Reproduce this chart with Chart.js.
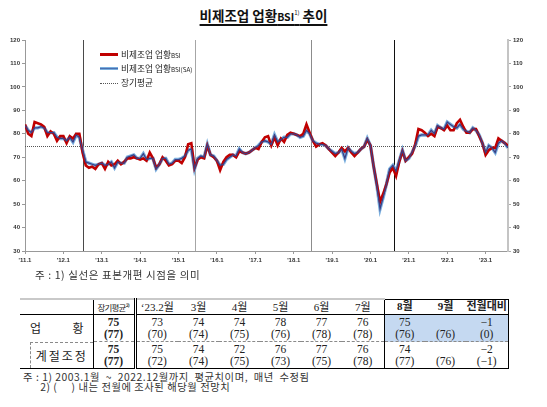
<!DOCTYPE html>
<html>
<head>
<meta charset="utf-8">
<script src="https://cdn.jsdelivr.net/npm/chart.js@4.4.1/dist/chart.umd.min.js"></script>
<style>
  html,body{margin:0;padding:0;background:#fff;}
  body{width:547px;height:407px;position:relative;overflow:hidden;font-family:"Noto Sans CJK KR","Noto Sans",sans-serif;color:#222;}
  #title{position:absolute;top:4px;left:0;width:527px;text-align:center;font-size:13.5px;font-weight:bold;color:#111;line-height:18px;}
  #title .u{text-decoration:underline;text-decoration-thickness:1.5px;text-underline-offset:3px;}
  #title small{font-size:10.5px;}
  #title sup{font-size:6px;vertical-align:6px;font-weight:normal;}
  #cwrap{position:absolute;left:0;top:28px;width:547px;height:240px;}
  #legend{position:absolute;left:100px;top:48px;font-size:8.7px;line-height:14px;color:#222;}
  #legend .it{display:flex;align-items:center;height:14px;}
  #legend .sw{width:18px;height:0;margin-right:3px;position:relative;}
  #legend small{font-size:6.3px;}
  #note1{position:absolute;left:35px;top:267px;font-size:10.5px;letter-spacing:0.6px;color:#333;}
  #tbl{position:absolute;left:20px;top:298px;border-collapse:collapse;table-layout:fixed;}
  #tbl td{padding:0;text-align:center;vertical-align:middle;font-family:"Liberation Serif","Noto Sans CJK KR",serif;font-size:11.5px;line-height:12.5px;color:#222;}
  #tbl tr.h td{height:14px;font-family:"Noto Sans CJK KR",sans-serif;font-size:10px;line-height:13px;border-top:2px solid #c9c9c9;border-bottom:1px solid #000;}
  #tbl tr.h td.num{font-family:"Liberation Serif","Noto Sans CJK KR",serif;font-size:11px;}
  #tbl tr.r1 td{height:26px;border-bottom:1px dashed #8a8a8a;}
  #tbl tr.r2 td{height:26px;border-bottom:1px solid #000;}
  #tbl td.c0{border-right:1px solid #000;font-family:"Noto Sans CJK KR",sans-serif;font-size:12px;}
  #tbl td.c1{border-right:3px double #000;font-weight:bold;}
  #tbl td.bl{border-left:1.5px solid #000;}
  #tbl td.br{border-right:1.5px solid #000;}
  #tbl tr.h td.bx{border-top:1.5px solid #000;font-weight:bold;}
  #tbl tr.r1 td.bx{background:#c5d9f1;}
  #tbl tr.r2 td.bx{border-bottom:1.5px solid #000;}
  #tbl tr.r1 td.c0{border-bottom:none;}
  #notes{position:absolute;left:23px;top:372px;font-size:10.3px;letter-spacing:0.55px;line-height:10px;color:#333;white-space:pre;}
</style>
</head>
<body>
<div id="title"><span class="u">비제조업 업황<small>BSI</small><sup>1)</sup> 추이</span></div>
<div id="cwrap"><canvas id="c" width="547" height="240" style="width:547px;height:240px"></canvas></div>
<div id="legend"></div>
<div id="note1">주 : 1) 실선은 표본개편 시점을 의미</div>
<table id="tbl"></table>
<div id="notes">주 : 1) 2003.1월  ~  2022.12월까지  평균치이며,  매년  수정됨
      2) (     ) 내는 전월에 조사된 해당월 전망치</div>

<script>
// ---------- DATA ----------
const yearTickLabels = ["'11.1","'12.1","'13.1","'14.1","'15.1","'16.1","'17.1","'18.1","'19.1","'20.1","'21.1","'22.1","'23.1"];

// 비제조업 업황BSI (2011.1 ~ 2023.8, monthly)
const bsi = [
  84,80,79,85,84.5,84,83,79,81,80,77,79,
  79,76,79,78,80,80,72,66.5,65.5,66,65,67,
  67.5,65,68,66.5,67,68.5,67,68,69.5,69.5,70,69.5,
  69,69.5,68.5,72,69.5,65.5,67,70,68.5,66.5,67,68.5,
  68.5,67.5,70,75.5,76,65.5,69,70,69.5,75,71,70,
  68.5,64.5,68,70,71,71,70,72.5,72,71.5,72,73,
  74,73.5,76.5,78.5,79,75,78.5,75,78,76.5,79.5,80.5,
  80,79.5,79,80,84,80.5,77,74.5,75.5,76,75,73.5,
  72,70.5,72,74,72.5,74,72,70.5,72,73.5,74.5,77.5,
  75,66,58.5,51,54.5,58.5,63.5,65.5,62,68,72.5,68.5,
  70,71.5,75.5,82,81.5,80.5,79,80,79,83,82.5,81.5,
  83.5,81.5,81.5,84.5,86,83,80.5,80.5,82,82,79,76,
  71,73,74,74,78,77,76,75
];

// 비제조업 업황BSI(SA)
const bsiSA = [
  83.5,81.5,80.5,82.5,82.5,83,82.5,80.5,80.5,80.5,78.5,78,
  78,77,78.5,76.5,79.5,78.5,73,68,67.5,67,66.5,67,
  67.5,66.5,67,68,65.5,68,67.5,67.5,70,70.5,71,69.5,
  69.5,71.5,69,69.5,69.5,65,67,69.5,69.5,67,67.5,69,
  69,69.5,70.5,73,73.5,65,69.5,70.5,70,75.5,71,70.5,
  68.5,66.5,67,69,70,71,70.5,73.5,72,71.5,72,73,
  74,75,76.5,77,76.5,75.5,79.5,76.5,77.5,78.5,78.5,80,
  80,79.5,78.5,79,81.5,80,77,76,75.5,75.5,75,73.5,
  72.5,71.5,72,73.5,69.5,74,72.5,71.5,72,73.5,74.5,78,
  75,66,58,48,53,58.5,65,66.5,64,68.5,73,68.5,
  69.5,72,75,79,79.5,79.5,79.5,81.5,80,83.5,82.5,82,
  85,84,83,82.5,84,82,81,80.5,82.5,81.5,79.5,76,
  72,75,74,72,76,77,76,74
];

// 장기평균
const longTermAvg = 75;

// 표본개편 시점 (months since 2011.1)
const sampleRevisions = [18.2, 53.2, 89.4, 115.4];

const legendLabels = ["비제조업 업황BSI", "비제조업 업황BSI(SA)", "장기평균"];

// ---------- TABLE DATA ----------
const tblHeaders = ["장기평균²⁾", "‘23.2월", "3월", "4월", "5월", "6월", "7월", "8월", "9월", "전월대비"];
const rowNames = ["업황", "계절조정"];
const row1Values = ["75", "73", "74", "74", "78", "77", "76", "75", "", "−1"];
const row1Fcst   = ["(77)", "(70)", "(74)", "(75)", "(76)", "(78)", "(78)", "(76)", "(76)", "(0)"];
const row2Values = ["75", "75", "74", "72", "76", "77", "76", "74", "", "−2"];
const row2Fcst   = ["(77)", "(72)", "(74)", "(75)", "(73)", "(75)", "(78)", "(77)", "(76)", "(−1)"];

// ---------- CHART ----------
const toXY = arr => arr.map((v, i) => ({x: i, y: v}));

const refLines = {
  id: 'refLines',
  beforeDatasetsDraw(chart) {
    const {ctx, chartArea: a, scales: {x, y}} = chart;
    ctx.save();
    const cols = ['#4a4a4a', '#a6a6a6', '#8c8c8c', '#111111'];
    sampleRevisions.forEach((m, k) => {
      const px = Math.round(x.getPixelForValue(m)) + 0.5;
      ctx.strokeStyle = cols[k % cols.length];
      ctx.lineWidth = 1;
      ctx.beginPath(); ctx.moveTo(px, a.top); ctx.lineTo(px, a.bottom); ctx.stroke();
    });
    const py = Math.round(y.getPixelForValue(longTermAvg)) + 0.5;
    ctx.strokeStyle = '#555';
    ctx.setLineDash([1, 1]);
    ctx.beginPath(); ctx.moveTo(a.left, py); ctx.lineTo(a.right, py); ctx.stroke();
    ctx.restore();
  }
};

const tickFont = {family: 'Liberation Sans', size: 6, weight: 'bold'};

const chart = new Chart(document.getElementById('c'), {
  type: 'line',
  data: {
    datasets: [
      {label: legendLabels[1] + ' core', data: toXY(bsiSA), borderColor: '#3a3f86', borderWidth: 1.3, pointRadius: 0, tension: 0, order: 0},
      {label: legendLabels[0], data: toXY(bsi), borderColor: '#c00000', borderWidth: 2.6, pointRadius: 0, tension: 0, order: 1},
      {label: legendLabels[1], data: toXY(bsiSA), borderColor: '#79aede', borderWidth: 3.4, pointRadius: 0, tension: 0, order: 2}
    ]
  },
  options: {
    responsive: false,
    animation: false,
    devicePixelRatio: 1,
    layout: {padding: {top: 12, left: 0, right: 0, bottom: 0}},
    plugins: {legend: {display: false}, tooltip: {enabled: false}},
    scales: {
      x: {
        type: 'linear', min: 0, max: bsi.length - 1,
        afterBuildTicks: s => { s.ticks = yearTickLabels.map((l, k) => ({value: k * 12})); },
        ticks: {autoSkip: false, maxRotation: 0, font: tickFont, color: '#333', padding: 3,
                callback: v => yearTickLabels[Math.round(v / 12)]},
        grid: {drawOnChartArea: false, tickLength: 3, color: '#999'},
        border: {color: '#999'},
        afterFit: s => { s.height = 17; }
      },
      y: {
        position: 'left', min: 30, max: 120,
        ticks: {stepSize: 10, font: tickFont, color: '#333', padding: 2},
        grid: {drawOnChartArea: false, tickLength: 3, color: '#999'},
        border: {color: '#999'},
        afterFit: s => { s.width = 25; }
      },
      y2: {
        position: 'right', min: 30, max: 120,
        ticks: {stepSize: 10, font: tickFont, color: '#333', padding: 2},
        grid: {drawOnChartArea: false, tickLength: 3, color: '#aaa'},
        border: {color: '#c4c4c4', width: 2},
        afterFit: s => { s.width = 39; }
      }
    }
  },
  plugins: [refLines]
});

// ---------- HTML LEGEND ----------
(function(){
  const lg = document.getElementById('legend');
  const fmt = t => t.replace(/BSI(\(SA\))?/, m => '<small>' + m + '</small>');
  const sw = [
    '<div class="sw" style="border-top:3px solid #c00000;top:-1px"></div>',
    '<div class="sw" style="border-top:3px solid #79aede;top:-1px"><div style="position:absolute;left:0;right:0;top:-2px;border-top:1px solid #4a6fb0"></div></div>',
    '<div class="sw" style="border-top:1px dotted #555"></div>'
  ];
  lg.innerHTML = legendLabels.map((t, k) => '<div class="it">' + sw[k] + '<span>' + fmt(t) + '</span></div>').join('');
})();

// ---------- TABLE ----------
(function(){
  const t = document.getElementById('tbl');
  const widths = [73, 42, 43, 41, 41, 41, 41, 42, 41, 41, 42];
  let html = '<colgroup>' + widths.map(w => '<col style="width:' + w + 'px">').join('') + '</colgroup>';
  const cls = k => {
    const c = [];
    if (k === 0) c.push('c1');
    if (k >= 7) c.push('bx');
    if (k === 7) c.push('bl');
    if (k === 9) c.push('br');
    return c.join(' ');
  };
  html += '<tr class="h"><td class="c0"></td>' + tblHeaders.map((h, k) => {
    let st = '';
    if (k === 0) st = ' style="font-family:Noto Sans CJK KR;font-size:8.5px;letter-spacing:-0.8px;font-weight:normal"';
    return '<td class="' + cls(k) + (k > 0 ? ' num' : '') + '"' + st + '>' + h + '</td>';
  }).join('') + '</tr>';
  const row = (name, vals, fc, rc, label) =>
    '<tr class="' + rc + '"><td class="c0">' + label + '</td>' +
    vals.map((v, k) => '<td class="' + cls(k) + '">' + (v || '&nbsp;') + '<br>' + fc[k] + '</td>').join('') + '</tr>';
  const lab1 = '<div style="display:flex;justify-content:space-between;padding:0 9px 0 10px">' +
               rowNames[0].split('').map(c => '<span>' + c + '</span>').join('') + '</div>';
  const lab2 = '<div style="margin-left:10px;border-left:1px dashed #8a8a8a;border-top:1px dashed #8a8a8a;height:25px;line-height:25px;letter-spacing:2px;text-align:center">' + rowNames[1] + '</div>';
  html += row(rowNames[0], row1Values, row1Fcst, 'r1', lab1);
  html += row(rowNames[1], row2Values, row2Fcst, 'r2', lab2);
  t.innerHTML = html;
})();
</script>
</body>
</html>
